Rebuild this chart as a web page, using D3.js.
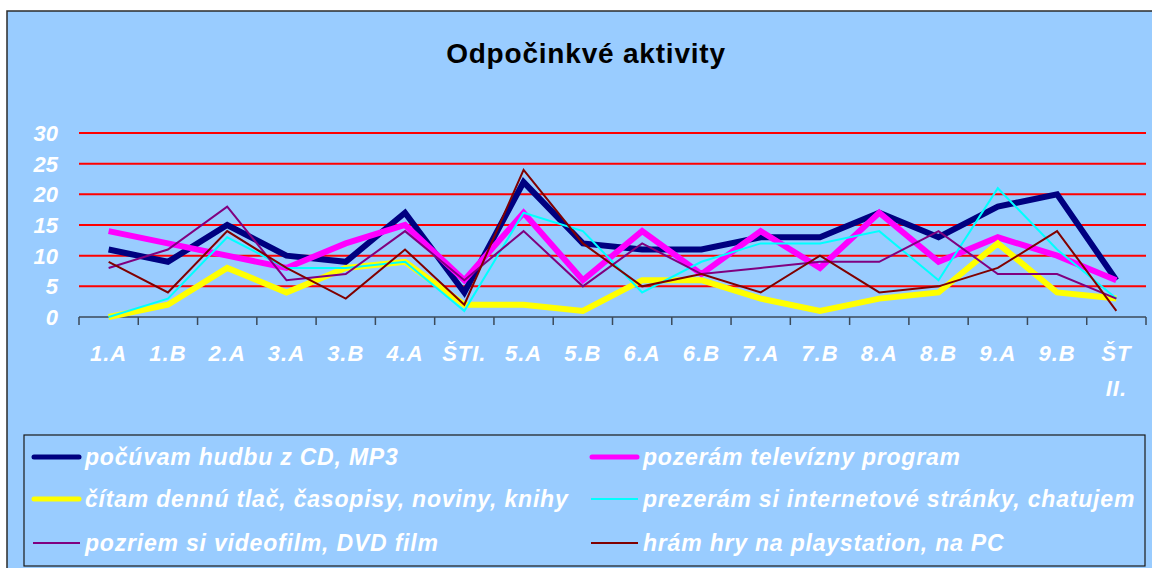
<!DOCTYPE html>
<html>
<head>
<meta charset="utf-8">
<script src="https://cdn.jsdelivr.net/npm/d3@7"></script>
<style>
  body { margin: 0; background: #fff; }
  text { font-family: "Liberation Sans", Arial, sans-serif; }
</style>
</head>
<body>
<svg id="chart" width="1152" height="568"></svg>
<script>
/*********************************************
    * Odpočinkvé aktivity
*********************************************/

var classes = ["1.A","1.B","2.A","3.A","3.B","4.A","ŠTI.","5.A","5.B","6.A","6.B","7.A","7.B","8.A","8.B","9.A","9.B","ŠT II."];

var cdMp3    = [11, 9,15,10, 9,17, 4,22,12,11,11,13,13,17,13,18,20, 6];
var tv       = [14,12,10, 8,12,15, 6,17, 6,14, 7,14, 8,17, 9,13,10, 6];
var reading  = [ 0, 2, 8, 4, 8, 9, 2, 2, 1, 6, 6, 3, 1, 3, 4,12, 4, 3];
var internet = [ 0, 3,13, 8, 8, 9, 1,17,14, 4, 9,12,12,14, 6,21,11, 3];
var video    = [ 8,11,18, 6, 7,14, 6,14, 5,12, 7, 8, 9, 9,14, 7, 7, 3];
var games    = [ 9, 4,14, 8, 3,11, 2,24,12, 5, 7, 4,10, 4, 5, 8,14, 1];

var yTicks = [0, 5, 10, 15, 20, 25, 30];

var seriesNames = [
  "počúvam hudbu z CD, MP3",
  "pozerám televízny program",
  "čítam dennú tlač, časopisy, noviny, knihy",
  "prezerám si internetové stránky, chatujem",
  "pozriem si videofilm, DVD film",
  "hrám hry na playstation, na PC"
];

var series = [
  {name: seriesNames[0], values: cdMp3,    color: "#000080", width: 6},
  {name: seriesNames[1], values: tv,       color: "#FF00FF", width: 6},
  {name: seriesNames[2], values: reading,  color: "#FFFF00", width: 6},
  {name: seriesNames[3], values: internet, color: "#00FFFF", width: 2},
  {name: seriesNames[4], values: video,    color: "#800080", width: 2},
  {name: seriesNames[5], values: games,    color: "#800000", width: 2}
];

var svg = d3.select("#chart");

// chart background + frame
svg.append("rect")
  .attr("x", 7).attr("y", 11)
  .attr("width", 1160).attr("height", 570)
  .attr("fill", "#99CCFF")
  .attr("stroke", "#2b2b2b")
  .attr("stroke-width", 1.5);

svg.append("text")
  .attr("x", 586).attr("y", 63)
  .attr("text-anchor", "middle")
  .attr("font-size", "28px")
  .attr("font-weight", "bold")
  .attr("letter-spacing", "0.8px")
  .attr("fill", "#000")
  .text("Odpočinkvé aktivity");

var x = d3.scaleBand()
  .domain(classes)
  .range([79, 1146]);

var y = d3.scaleLinear()
  .domain([0, 30])
  .range([317, 133]);

// gridlines
svg.append("g")
  .selectAll("line")
  .data(yTicks.filter(function(d) { return d > 0; }))
  .enter().append("line")
  .attr("x1", 79).attr("x2", 1146)
  .attr("y1", function(d) { return y(d); })
  .attr("y2", function(d) { return y(d); })
  .attr("stroke", "#FF0000")
  .attr("stroke-width", 2);

// y labels
svg.append("g")
  .selectAll("text")
  .data(yTicks)
  .enter().append("text")
  .attr("x", 58)
  .attr("y", function(d) { return y(d) + 8; })
  .attr("text-anchor", "end")
  .attr("font-size", "22px")
  .attr("font-weight", "bold")
  .attr("font-style", "italic")
  .attr("fill", "#fff")
  .text(function(d) { return d; });

// x axis
var xAxis = svg.append("g")
  .attr("transform", "translate(0,317)");
xAxis.append("line")
  .attr("x1", 79).attr("x2", 1146)
  .attr("stroke", "#3b4a5a").attr("stroke-width", 1.5);
xAxis.selectAll(".tick")
  .data(classes.map(function(d) { return x(d); }).concat([x.range()[1]]))
  .enter().append("line")
  .attr("class", "tick")
  .attr("x1", function(d) { return d; })
  .attr("x2", function(d) { return d; })
  .attr("y1", 0).attr("y2", 8)
  .attr("stroke", "#3b4a5a").attr("stroke-width", 1.5);

var xLabels = svg.append("g")
  .selectAll("text")
  .data(classes)
  .enter().append("text")
  .attr("x", function(d) { return x(d) + x.bandwidth() / 2; })
  .attr("y", 361)
  .attr("text-anchor", "middle")
  .attr("font-size", "22px")
  .attr("font-weight", "bold")
  .attr("font-style", "italic")
  .attr("letter-spacing", "1px")
  .attr("fill", "#fff");

xLabels.selectAll("tspan")
  .data(function(d) { return d.split(" "); })
  .enter().append("tspan")
  .attr("x", function() { var p = this.parentNode.__data__; return x(p) + x.bandwidth() / 2; })
  .attr("dy", function(d, i) { return i === 0 ? 0 : 35; })
  .text(function(d) { return d; });

// lines
var line = d3.line()
  .x(function(d, i) { return x(classes[i]) + x.bandwidth() / 2; })
  .y(function(d) { return y(d); });

svg.append("g")
  .selectAll("path")
  .data(series)
  .enter().append("path")
  .attr("d", function(d) { return line(d.values); })
  .attr("fill", "none")
  .attr("stroke", function(d) { return d.color; })
  .attr("stroke-width", function(d) { return d.width; });

// legend
svg.append("rect")
  .attr("x", 24).attr("y", 435)
  .attr("width", 1121).attr("height", 131)
  .attr("fill", "none")
  .attr("stroke", "#1a1a1a")
  .attr("stroke-width", 1.2);

var legend = svg.selectAll(".legend")
  .data(series)
  .enter().append("g")
  .attr("class", "legend")
  .attr("transform", function(d, i) {
    return "translate(" + (i % 2 === 0 ? 32 : 590) + "," + [457, 499, 543][Math.floor(i / 2)] + ")";
  });

legend.append("line")
  .attr("x1", function(d) { return d.width > 3 ? 2 : 1; })
  .attr("x2", function(d) { return d.width > 3 ? 47 : 48; })
  .attr("stroke", function(d) { return d.color; })
  .attr("stroke-width", function(d) { return d.width > 3 ? 5 : 2; })
  .attr("stroke-linecap", function(d) { return d.width > 3 ? "round" : "butt"; });

legend.append("text")
  .attr("x", 53)
  .attr("y", 8)
  .attr("font-size", "23px")
  .attr("font-weight", "bold")
  .attr("font-style", "italic")
  .attr("letter-spacing", "0.8px")
  .attr("fill", "#fff")
  .text(function(d) { return d.name; });
</script>
</body>
</html>
